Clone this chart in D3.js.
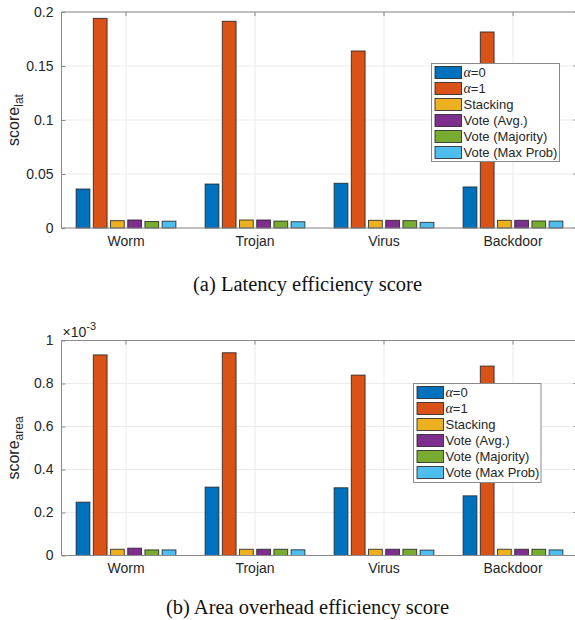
<!DOCTYPE html>
<html><head><meta charset="utf-8">
<script src="https://cdn.jsdelivr.net/npm/d3@7"></script>
<style>body{margin:0;background:#fff}svg{display:block}</style>
</head><body>
<svg id="c" width="575" height="620"></svg>
<script>
const categories = ["Worm","Trojan","Virus","Backdoor"];
const seriesNames = ["α=0","α=1","Stacking","Vote (Avg.)","Vote (Majority)","Vote (Max Prob)"];
const colors = ["#0072BD","#D95319","#EDB120","#7E2F8E","#77AC30","#4DBEEE"];
// latency score, one array per series (Worm, Trojan, Virus, Backdoor)
const latAlpha0   = [0.0361,0.0407,0.0414,0.0380];
const latAlpha1   = [0.1941,0.1914,0.1639,0.1815];
const latStacking = [0.0068,0.0074,0.0071,0.0071];
const latVoteAvg  = [0.0074,0.0074,0.0071,0.0071];
const latVoteMaj  = [0.0060,0.0064,0.0068,0.0065];
const latVoteMax  = [0.0063,0.0058,0.0052,0.0064];
// area score (real values, displayed ×10^-3)
const areaAlpha0   = [0.248e-3,0.318e-3,0.315e-3,0.2775e-3];
const areaAlpha1   = [0.933e-3,0.943e-3,0.839e-3,0.881e-3];
const areaStacking = [0.029e-3,0.029e-3,0.029e-3,0.029e-3];
const areaVoteAvg  = [0.034e-3,0.029e-3,0.029e-3,0.029e-3];
const areaVoteMaj  = [0.026e-3,0.029e-3,0.029e-3,0.029e-3];
const areaVoteMax  = [0.026e-3,0.0265e-3,0.025e-3,0.026e-3];
const latTicks = [0,0.05,0.1,0.15,0.2];
const latTickLabels = ["0","0.05","0.1","0.15","0.2"];
const areaTicks = [0,0.2e-3,0.4e-3,0.6e-3,0.8e-3,1e-3];
const areaTickLabels = ["0","0.2","0.4","0.6","0.8","1"];

const svg = d3.select("#c");
const SANS = "'Liberation Sans', Arial, Helvetica, sans-serif";
const SERIF = "'Liberation Serif', 'Times New Roman', serif";

function panel(opt){
  const {top,bottom,series,ymax,ticks,tickLabels,ylabelMain,ylabelSub,legend,caption,captionY,exponent} = opt;
  const left = 61.5, right = 577.5;
  const g = svg.append("g");
  const x = d3.scaleBand().domain(categories).range([left,right]).paddingInner(0).paddingOuter(0);
  const y = d3.scaleLinear().domain([0,ymax]).range([bottom,top]);
  const unit = x.bandwidth();
  const inner = d3.scaleBand().domain(d3.range(series.length)).range([0, unit*0.8]).paddingInner(0.2).paddingOuter(0.1);
  // grid
  g.append("g").selectAll("line").data(ticks).join("line")
    .attr("x1",left).attr("x2",right).attr("y1",d=>y(d)).attr("y2",d=>y(d))
    .attr("stroke","#ebebeb").attr("stroke-width",1);
  g.append("g").selectAll("line").data(categories).join("line")
    .attr("x1",d=>x(d)+unit/2).attr("x2",d=>x(d)+unit/2).attr("y1",top).attr("y2",bottom)
    .attr("stroke","#ebebeb").attr("stroke-width",1);
  // bars
  series.forEach((vals,si)=>{
    g.append("g").selectAll("rect").data(vals).join("rect")
      .attr("x",(d,i)=>x(categories[i]) + unit*0.1 + inner(si))
      .attr("width",inner.bandwidth())
      .attr("y",d=>y(d))
      .attr("height",d=>y(0)-y(d))
      .attr("fill",colors[si])
      .attr("stroke","rgba(30,30,30,0.8)").attr("stroke-width",1);
  });
  // box
  g.append("line").attr("x1",left).attr("x2",right).attr("y1",top).attr("y2",top).attr("stroke","#8a8a8a");
  g.append("line").attr("x1",left).attr("x2",right).attr("y1",bottom).attr("y2",bottom).attr("stroke","#8a8a8a");
  g.append("line").attr("x1",left).attr("x2",left).attr("y1",top).attr("y2",bottom).attr("stroke","#8a8a8a");
  // y axis
  const ya = d3.axisLeft(y).tickValues(ticks).tickFormat((d,i)=>tickLabels[i]).tickSizeInner(-4).tickSizeOuter(0).tickPadding(8);
  const yg = g.append("g").attr("transform",`translate(${left},0)`).call(ya);
  yg.select(".domain").remove();
  yg.selectAll(".tick line").attr("stroke","#8a8a8a");
  yg.selectAll(".tick text").attr("font-family",SANS).attr("font-size",14).attr("fill","#262626");
  // right ticks
  g.append("g").selectAll("line").data(ticks).join("line")
    .attr("x1",right-4).attr("x2",right).attr("y1",d=>y(d)).attr("y2",d=>y(d)).attr("stroke","#8a8a8a");
  // top ticks
  g.append("g").selectAll("line").data(categories).join("line")
    .attr("x1",d=>x(d)+unit/2).attr("x2",d=>x(d)+unit/2).attr("y1",top).attr("y2",top+4).attr("stroke","#8a8a8a");
  // x axis labels
  const xa = d3.axisBottom(x).tickSize(0).tickPadding(8);
  const xg = g.append("g").attr("transform",`translate(0,${bottom})`).call(xa);
  xg.select(".domain").remove();
  xg.selectAll(".tick text").attr("font-family",SANS).attr("font-size",14).attr("fill","#262626");
  // y label
  const yl = g.append("text").attr("transform",`translate(19,${(top+bottom)/2}) rotate(-90)`)
    .attr("text-anchor","middle").attr("font-family",SANS).attr("font-size",16).attr("fill","#262626");
  yl.append("tspan").text(ylabelMain);
  yl.append("tspan").attr("dy",4).attr("font-size",12).text(ylabelSub);
  if(exponent){
    const ex = g.append("text").attr("x",left+1).attr("y",top-4).attr("font-family",SANS).attr("font-size",14).attr("fill","#262626");
    ex.append("tspan").text("×10");
    ex.append("tspan").attr("dy",-7).attr("font-size",11).text("-3");
  }
  // legend
  const L = legend;
  const lg = g.append("g");
  lg.append("rect").attr("x",L.x).attr("y",L.y).attr("width",L.w).attr("height",L.h)
    .attr("fill","#fff").attr("stroke","#8a8a8a").attr("stroke-width",1);
  seriesNames.forEach((name,i)=>{
    const cy = L.y + 9 + i*16;
    lg.append("rect").attr("x",L.x+3.5).attr("y",cy-6).attr("width",26.5).attr("height",12)
      .attr("fill",colors[i]).attr("stroke","rgba(30,30,30,0.8)").attr("stroke-width",1);
    const t = lg.append("text").attr("x",L.x+32).attr("y",cy+4.5).attr("font-family",SANS).attr("font-size",13).attr("fill","#262626");
    if(name.startsWith("α")){
      t.append("tspan").attr("font-family",SERIF).attr("font-style","italic").attr("font-size",14).text("α");
      t.append("tspan").text(name.slice(1));
    } else t.text(name);
  });
  // caption
  svg.append("text").attr("x",307.5).attr("y",captionY).attr("text-anchor","middle")
    .attr("font-family",SERIF).attr("font-size",20.5).attr("fill","#111").text(caption);
}

panel({top:12,bottom:228,ymax:0.2,ticks:latTicks,tickLabels:latTickLabels,
  series:[latAlpha0,latAlpha1,latStacking,latVoteAvg,latVoteMaj,latVoteMax],
  ylabelMain:"score",ylabelSub:"lat",
  legend:{x:431.5,y:63.5,w:128,h:98},
  caption:"(a) Latency efficiency score",captionY:291});
panel({top:340.5,bottom:555.5,ymax:1e-3,ticks:areaTicks,tickLabels:areaTickLabels,
  series:[areaAlpha0,areaAlpha1,areaStacking,areaVoteAvg,areaVoteMaj,areaVoteMax],
  ylabelMain:"score",ylabelSub:"area",exponent:true,
  legend:{x:413.5,y:383.5,w:127.5,h:99},
  caption:"(b) Area overhead efficiency score",captionY:614});
</script>
</body></html>
